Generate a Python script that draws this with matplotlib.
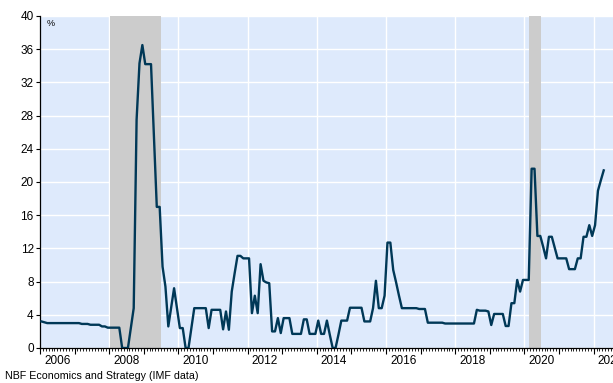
import numpy as np
import matplotlib
matplotlib.use("Agg")
import matplotlib.pyplot as plt

plt.rcParams["font.family"] = ["Liberation Sans", "DejaVu Sans"]

# monthly values from Jan 2006 (%)
start_year = 2006
values = (
    [3.2, 3.1] + [3.0] * 12 + [2.9] * 3 + [2.8] * 4 + [2.6] * 2 + [2.45] * 5
    + [0, 0, 0, 2.4, 4.8, 27.5, 34.3, 36.5, 34.2, 34.2, 34.2, 25.6, 17.0, 17.0]
    + [9.8, 7.4, 2.6, 4.9, 7.2, 4.8, 2.4, 2.4, 0, 0, 2.4]
    + [4.8] * 5 + [2.4] + [4.6] * 4 + [2.25, 4.4, 2.2, 6.8, 9.0, 11.1, 11.1]
    + [10.8] * 3 + [4.2, 6.3, 4.2, 10.1, 8.1, 7.9, 7.8, 2.0, 2.0, 3.6, 1.8]
    + [3.6] * 3 + [1.7] * 4 + [3.45, 3.45] + [1.7] * 3 + [3.3, 1.7, 1.7, 3.3]
    + [1.6, 0, 0, 1.6, 3.3, 3.3, 3.3] + [4.85] * 5 + [3.2] * 3
    + [4.8, 8.1, 4.8, 4.8, 6.3, 12.7, 12.7, 9.4, 7.9, 6.3] + [4.8] * 6
    + [4.7] * 3 + [3.05] * 6 + [2.95] * 11 + [4.6, 4.5, 4.5, 4.5, 4.4]
    + [2.77] + [4.1] * 4 + [2.65, 2.65, 5.4, 5.4, 8.2, 6.8, 8.2, 8.2, 8.2]
    + [21.6, 21.6, 13.5, 13.5, 12.2, 10.8, 13.4, 13.4, 12.1] + [10.8] * 4
    + [9.5] * 3 + [10.8, 10.8, 13.4, 13.4, 14.8, 13.5, 14.8, 18.95, 20.2, 21.4]
)
dates = start_year + (np.arange(len(values)) + 0.5) / 12

recession_start = [2008.02, 2020.13]
recession_end = [2009.5, 2020.48]

y_ticks = list(range(0, 41, 4))
label_years = list(range(2006, 2023, 2))

fig = plt.figure(figsize=(6.13, 3.83), dpi=100)
ax = fig.add_axes([40 / 613, 1 - 348 / 383, 1 - 40 / 613, 332 / 383])
ax.set_facecolor("#deeafc")

ax.set_xlim(2006, 2022.56)
ax.set_ylim(0, 40)

# grid
ax.set_axisbelow(True)
ax.yaxis.grid(True, color="white", linewidth=1.0)
for yr in label_years[1:]:
    ax.axvline(yr, color="white", linewidth=1.0, zorder=0.6)

for s, e in zip(recession_start, recession_end):
    ax.axvspan(s, e, color="#cccccc", zorder=1, linewidth=0)

ax.plot(dates, values, color="#003857", linewidth=1.7, zorder=3)

ax.set_yticks(y_ticks)
ax.tick_params(axis="y", length=3, width=0.8, labelsize=8.5, pad=1.5, colors="black")

ax.set_xticks(np.arange(2006, 2023))
ax.set_xticklabels([])
ax.set_xticks(np.arange(2006, 2022.56, 1 / 12), minor=True)
ax.tick_params(axis="x", which="major", length=4.5, width=0.8)
ax.tick_params(axis="x", which="minor", length=2.5, width=0.6)

for yr in label_years:
    ax.text(yr + 0.5, -0.022, str(yr), transform=ax.get_xaxis_transform(),
            ha="center", va="top", fontsize=8.5, clip_on=False)

for side in ["top", "right"]:
    ax.spines[side].set_visible(False)
ax.spines["left"].set_linewidth(0.9)
ax.spines["bottom"].set_linewidth(0.9)

ax.text(0.012, 0.99, "%", transform=ax.transAxes, ha="left", va="top", fontsize=6.5)

fig.text(5 / 613, 1 - 381 / 383, "NBF Economics and Strategy (IMF data)",
         ha="left", va="bottom", fontsize=7.7)

fig.savefig("out.png", dpi=100)
